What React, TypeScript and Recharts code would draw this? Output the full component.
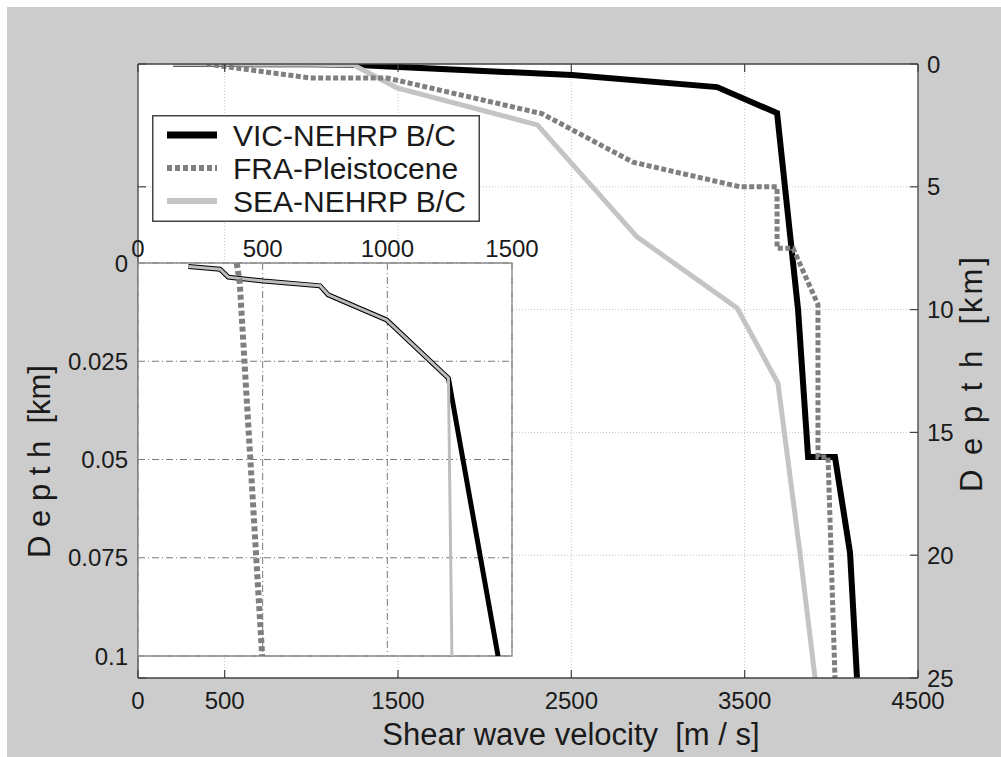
import { CartesianGrid, Legend, Line, LineChart, ReferenceArea, XAxis, YAxis } from "recharts";

const seriesNames = ["VIC-NEHRP B/C", "FRA-Pleistocene", "SEA-NEHRP B/C"];

// depth [km] and shear wave velocity [m/s], listed from the surface down
const vicDepth = [0.0009, 0.0016, 0.0036, 0.0046, 0.0058, 0.0081, 0.0145, 0.0293, 0.1, 0.45, 0.94, 2.0, 10, 16, 16, 19.9, 25];
const vicVel = [202, 329, 362, 503, 730, 763, 997, 1245, 1444, 2504, 3341, 3687, 3808, 3866, 4021, 4108, 4148];

const fraDepth = [0, 0.005, 0.1, 0.57, 0.57, 2.02, 4.0, 5.0, 5.0, 7.5, 7.5, 9.8, 16, 16, 25];
const fraVel = [396, 408, 498, 992, 1437, 2330, 2856, 3473, 3687, 3687, 3779, 3923, 3923, 3981, 4021];

const seaDepth = [0.0009, 0.0016, 0.0036, 0.0046, 0.0058, 0.0081, 0.0145, 0.0293, 0.1, 0.97, 2.48, 7.04, 9.93, 13, 19.9, 25];
const seaVel = [202, 329, 362, 503, 730, 763, 997, 1245, 1259, 1494, 2304, 2879, 3456, 3692, 3819, 3906];

const velTicks = [0, 500, 1500, 2500, 3500, 4500];
const depthTicks = [0, 5, 10, 15, 20, 25];
const insetVelTicks = [0, 500, 1000, 1500];
const insetDepthTicks = [0, 0.025, 0.05, 0.075, 0.1];

const toPoints = (depth: number[], vel: number[]) => depth.map((d, i) => ({ d, v: vel[i] }));
const vic = toPoints(vicDepth, vicVel);
const fra = toPoints(fraDepth, fraVel);
const sea = toPoints(seaDepth, seaVel);

const FONT = "'Liberation Sans', Arial, sans-serif";
const AXIS = "#444";
const INK = "#1a1a1a";
const FRA_GRAY = "#7f7f7f";
const SEA_GRAY = "#c4c4c4";

function BottomTick(p: any) {
  return (
    <g>
      <line x1={p.x} x2={p.x} y1={p.y} y2={p.y - 8} stroke={AXIS} strokeWidth={1.2} />
      <text x={p.x} y={p.y + 31} textAnchor="middle" fontFamily={FONT} fontSize={24} fill={INK}>
        {p.payload.value}
      </text>
    </g>
  );
}

function TopTick(p: any) {
  return <line x1={p.x} x2={p.x} y1={p.y} y2={p.y + 8} stroke={AXIS} strokeWidth={1.2} />;
}

function RightTick(p: any) {
  return (
    <g>
      <line x1={p.x} x2={p.x - 8} y1={p.y} y2={p.y} stroke={AXIS} strokeWidth={1.2} />
      <text x={p.x + 9} y={p.y} dominantBaseline="central" fontFamily={FONT} fontSize={24} fill={INK}>
        {p.payload.value}
      </text>
    </g>
  );
}

function LeftTick(p: any) {
  return <line x1={p.x} x2={p.x + 8} y1={p.y} y2={p.y} stroke={AXIS} strokeWidth={1.2} />;
}

function InsetTopTick(p: any) {
  return (
    <text x={p.x} y={p.y - 6} textAnchor="middle" fontFamily={FONT} fontSize={24} fill={INK}>
      {p.payload.value}
    </text>
  );
}

function InsetLeftTick(p: any) {
  return (
    <text x={p.x - 10} y={p.y} textAnchor="end" dominantBaseline="central" fontFamily={FONT} fontSize={24} fill={INK}>
      {p.payload.value}
    </text>
  );
}

const velocityTitle = (props: any) => {
  const { x, y } = props.viewBox;
  return (
    <text x={x + 433} y={y + 67} textAnchor="middle" fontFamily={FONT} fontSize={31} fill={INK} style={{ whiteSpace: "pre" }}>
      Shear wave velocity  [m / s]
    </text>
  );
};

const depthTitle = (dx: number, spacing: number) => (props: any) => {
  const { x, y, height } = props.viewBox;
  return (
    <text
      transform={`translate(${x + dx},${y + height / 2 + 2}) rotate(-90)`}
      textAnchor="middle"
      fontFamily={FONT}
      fontSize={31}
      letterSpacing={spacing}
      fill={INK}
      style={{ whiteSpace: "pre" }}
    >
      D e p t h  [km]
    </text>
  );
};

const legendStyles = [
  { stroke: "#000", width: 7, dash: undefined },
  { stroke: FRA_GRAY, width: 6, dash: "5 3" },
  { stroke: SEA_GRAY, width: 6, dash: undefined },
];

function LegendBox() {
  return (
    <svg width={328} height={107} style={{ display: "block" }}>
      <rect x={0.75} y={0.75} width={326.5} height={105.5} fill="#fff" stroke={AXIS} strokeWidth={1.5} />
      {seriesNames.map((name, i) => (
        <g key={name}>
          <line
            x1={15}
            x2={65}
            y1={20 + i * 33}
            y2={20 + i * 33}
            stroke={legendStyles[i].stroke}
            strokeWidth={legendStyles[i].width}
            strokeDasharray={legendStyles[i].dash}
          />
          <text x={81} y={20 + i * 33} dominantBaseline="central" fontFamily={FONT} fontSize={30} fill={INK}>
            {name}
          </text>
        </g>
      ))}
    </svg>
  );
}

export default function App() {
  return (
    <div style={{ position: "absolute", left: 0, top: 0, width: 1001, height: 757 }}>
      <div style={{ position: "absolute", left: 7, top: 7, width: 994, height: 750, background: "#cccccc" }} />

      <div style={{ position: "absolute", left: 0, top: 0 }}>
        <LineChart width={1001} height={757} margin={{ top: 54, right: 23, bottom: 39, left: 128 }}>
          <CartesianGrid fill="#fff" stroke="#c4c4c4" strokeDasharray="1 2" />
          <Line data={vic} dataKey="d" stroke="#000" strokeWidth={6} dot={false} activeDot={false} isAnimationActive={false} />
          <Line data={sea} dataKey="d" stroke={SEA_GRAY} strokeWidth={5} dot={false} activeDot={false} isAnimationActive={false} />
          <Line data={fra} dataKey="d" stroke={FRA_GRAY} strokeWidth={5} strokeDasharray="5 2.5" dot={false} activeDot={false} isAnimationActive={false} />
          <XAxis
            type="number"
            dataKey="v"
            domain={[0, 4500]}
            ticks={velTicks}
            interval={0}
            allowDataOverflow
            height={40}
            tickSize={0}
            tickMargin={0}
            tickLine={false}
            axisLine={{ stroke: AXIS, strokeWidth: 1.3 }}
            tick={BottomTick}
            label={{ value: "Shear wave velocity  [m / s]", content: velocityTitle }}
          />
          <XAxis
            xAxisId="top"
            orientation="top"
            type="number"
            dataKey="v"
            domain={[0, 4500]}
            ticks={velTicks}
            interval={0}
            allowDataOverflow
            height={10}
            tickSize={0}
            tickMargin={0}
            tickLine={false}
            axisLine={{ stroke: AXIS, strokeWidth: 1.3 }}
            tick={TopTick}
          />
          <YAxis
            orientation="right"
            type="number"
            domain={[0, 25]}
            reversed
            ticks={depthTicks}
            interval={0}
            allowDataOverflow
            width={60}
            tickSize={0}
            tickMargin={0}
            tickLine={false}
            axisLine={{ stroke: AXIS, strokeWidth: 1.3 }}
            tick={RightTick}
            label={{ value: "D e p t h  [km]", content: depthTitle(64, 3) }}
          />
          <YAxis
            yAxisId="left"
            orientation="left"
            type="number"
            domain={[0, 25]}
            reversed
            ticks={depthTicks}
            interval={0}
            allowDataOverflow
            width={10}
            tickSize={0}
            tickMargin={0}
            tickLine={false}
            axisLine={{ stroke: AXIS, strokeWidth: 1.3 }}
            tick={LeftTick}
          />
          <Legend
            layout="vertical"
            align="center"
            verticalAlign="middle"
            content={LegendBox}
            wrapperStyle={{ left: 152, top: 115, width: 328, height: 107 }}
          />
        </LineChart>
      </div>

      <div style={{ position: "absolute", left: 0, top: 200 }}>
        <LineChart width={570} height={470} margin={{ top: 33, right: 58, bottom: 14, left: 78 }}>
          <CartesianGrid fill="#fff" stroke="#7a7a7a" strokeDasharray="7 3 1 3" />
          <Line data={vic} dataKey="d" stroke="#000" strokeWidth={5} dot={false} activeDot={false} isAnimationActive={false} />
          <Line data={sea} dataKey="d" stroke="#bdbdbd" strokeWidth={3} dot={false} activeDot={false} isAnimationActive={false} />
          <Line data={fra} dataKey="d" stroke={FRA_GRAY} strokeWidth={6} strokeDasharray="5 3" dot={false} activeDot={false} isAnimationActive={false} />
          <ReferenceArea x1={0} x2={1500} y1={0} y2={0.1} fill="none" stroke="#8a8a8a" strokeWidth={1.3} />
          <XAxis
            orientation="top"
            type="number"
            dataKey="v"
            domain={[0, 1500]}
            ticks={insetVelTicks}
            interval={0}
            allowDataOverflow
            height={30}
            tickSize={0}
            tickMargin={0}
            tickLine={false}
            axisLine={false}
            tick={InsetTopTick}
          />
          <YAxis
            type="number"
            domain={[0, 0.1]}
            reversed
            ticks={insetDepthTicks}
            interval={0}
            allowDataOverflow
            width={60}
            tickSize={0}
            tickMargin={0}
            tickLine={false}
            axisLine={false}
            tick={InsetLeftTick}
            label={{ value: "D e p t h  [km]", content: depthTitle(-28, 0) }}
          />
        </LineChart>
      </div>
    </div>
  );
}
